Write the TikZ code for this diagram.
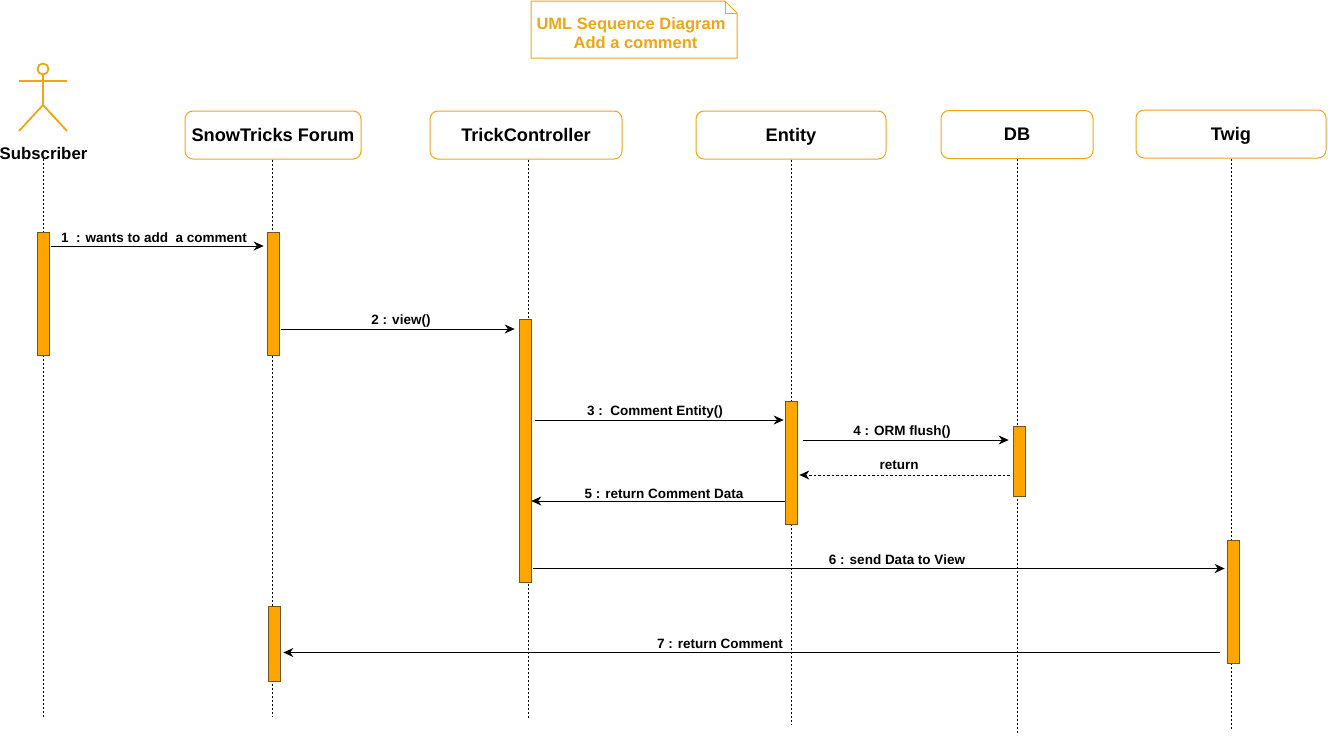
\documentclass[tikz,border=0pt]{standalone}
\usepackage{fontspec}
\setmainfont{Liberation Sans}
\usepackage{xcolor}
\usetikzlibrary{arrows.meta,positioning}
\definecolor{umlorange}{RGB}{255,165,0}
\definecolor{umlline}{RGB}{240,165,20}
\definecolor{barline}{RGB}{110,85,30}

\begin{document}
\begin{tikzpicture}[
  x=1pt, y=-1pt,
  head/.style={draw=umlline, line width=1pt, rounded corners=8pt, fill=white, inner sep=0pt, text height=12.5pt, text depth=0pt, font=\fontsize{18.2}{20}\selectfont\bfseries},
  bar/.style={draw=barline, line width=0.7pt, fill=umlorange, inner sep=0pt, minimum width=12pt},
  lifeline/.style={line width=0.7pt, dash pattern=on 2pt off 2pt},
  msg/.style={line width=0.9pt, -{Stealth[length=10pt,width=9pt]}},
  ret/.style={line width=0.9pt, dash pattern=on 2.5pt off 2pt, -{Stealth[length=10pt,width=9pt]}},
  lbl/.style={inner sep=0pt, font=\fontsize{13.5}{15}\selectfont\bfseries},
  actorline/.style={draw=umlline, line width=1.8pt}
]
\useasboundingbox (0,0) rectangle (1328,737);

% ==================
% Title note
% ==================
\draw[draw=umlline, line width=1pt] (531,1) -- (725,1) -- (737,13) -- (737,58) -- (531,58) -- cycle;
\draw[draw=umlline, line width=1pt] (725,1) -- (725,13) -- (737,13);
\node[inner sep=0pt, align=center, text=umlline, font=\fontsize{16.5}{19}\selectfont\bfseries] (title) at (631,33.5) {UML Sequence Diagram\\\hspace*{9pt}Add a comment};

% ==================
% Actor
% ==================
\node[circle, actorline, inner sep=0pt, minimum size=11pt] (ahead) at (43,69) {};
\coordinate (ahip) at (43,105);
\coordinate (aarml) at (19,81);
\coordinate (aarmr) at (67,81);
\coordinate (alegl) at (19,131);
\coordinate (alegr) at (67,131);
\draw[actorline] (ahead) -- (ahip);
\draw[actorline] (aarml) -- (aarmr);
\draw[actorline] (alegl) -- (ahip) -- (alegr);
\node[inner sep=0pt, font=\fontsize{16.8}{20}\selectfont\bfseries] (subscriber) at (43.5,153) {Subscriber};

% ==================
% Heads
% ==================
\node[head, minimum width=176pt, minimum height=48pt] (forum) at (273,135) {SnowTricks Forum};
\node[head, minimum width=192pt, minimum height=48pt] (trick) at (526,135) {TrickController};
\node[head, minimum width=190pt, minimum height=48pt] (entity) at (791,135) {Entity};
\node[head, minimum width=152pt, minimum height=48pt] (db) at (1017,134.5) {DB};
\node[head, minimum width=190pt, minimum height=48pt] (twig) at (1231,134) {Twig};

% ==================
% Lifelines
% ==================
\coordinate (subend) at (43,718);
\coordinate (forumend) at (272,716);
\coordinate (trickend) at (528,719);
\coordinate (entityend) at (791,725);
\coordinate (dbend) at (1017,735);
\coordinate (twigend) at (1231,730);
\draw[lifeline] (subscriber.south -| subend) -- (subend);
\draw[lifeline] (forum.south -| forumend) -- (forumend);
\draw[lifeline] (trick.south -| trickend) -- (trickend);
\draw[lifeline] (entity.south -| entityend) -- (entityend);
\draw[lifeline] (db.south -| dbend) -- (dbend);
\draw[lifeline] (twig.south -| twigend) -- (twigend);

% ==================
% Activation bars
% ==================
\node[bar, minimum height=123pt] (subbar) at (43.5,293.5) {};
\node[bar, minimum height=123pt] (forumbar) at (273,294) {};
\node[bar, minimum height=263pt] (trickbar) at (525,451) {};
\node[bar, minimum height=123pt] (entitybar) at (791,462.5) {};
\node[bar, minimum height=70pt] (dbbar) at (1019,461.5) {};
\node[bar, minimum height=123pt] (twigbar) at (1233,602) {};
\node[bar, minimum height=75pt] (forumbarb) at (274,643.5) {};

% ==================
% Messages
% ==================
\draw[msg, shorten <=1pt, shorten >=3pt] (subbar.east |- 0,246) -- (forumbar.west |- 0,246);
\node[lbl] (m1) at (154,237.5) {1\ \ : wants to add\ \ a comment};

\draw[msg, shorten <=2pt, shorten >=4pt] (forumbar.east |- 0,329) -- (trickbar.west |- 0,329);
\node[lbl] (m2) at (401,321.5) {2 : view()};

\draw[msg, shorten <=4pt, shorten >=1pt] (trickbar.east |- 0,420) -- (entitybar.west |- 0,420);
\node[lbl] (m3) at (655,412) {3 :\ \ Comment Entity()};

\draw[msg, shorten <=6pt, shorten >=4pt] (entitybar.east |- 0,440) -- (dbbar.west |- 0,440);
\node[lbl] (m4) at (902,432) {4 : ORM flush()};

\draw[ret, shorten <=3pt, shorten >=2pt] (dbbar.west |- 0,475) -- (entitybar.east |- 0,475);
\node[lbl] (mr) at (899,465.5) {return};

\draw[msg] (entitybar.west |- 0,501) -- (trickbar.east |- 0,501);
\node[lbl] (m5) at (664,493.5) {5 : return Comment Data};

\draw[msg, shorten <=2pt, shorten >=2pt] (trickbar.east |- 0,568.5) -- (twigbar.west |- 0,568.5);
\node[lbl] (m6) at (897,560) {6 : send Data to View};

\draw[msg, shorten <=7pt, shorten >=3pt] (twigbar.west |- 0,652.5) -- (forumbarb.east |- 0,652.5);
\node[lbl] (m7) at (720,643.5) {7 : return Comment};
\end{tikzpicture}
\end{document}
